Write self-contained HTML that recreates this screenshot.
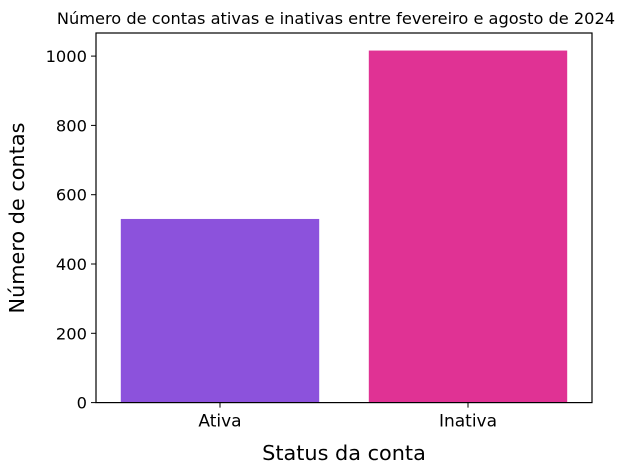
<!DOCTYPE html>
<html><head><meta charset="utf-8"><style>
body{margin:0;background:#fff;}
svg{display:block;font-family:"DejaVu Sans","Liberation Sans",sans-serif;}
</style></head><body>
<svg id="chart" width="640" height="474">
<g id="bars"></g>
<g id="axes"></g>
<text x="336" y="24" text-anchor="middle" font-size="16.2" fill="#000">Número de contas ativas e inativas entre fevereiro e agosto de 2024</text>
<text x="344" y="460" text-anchor="middle" font-size="20.8" fill="#000">Status da conta</text>
<text transform="translate(24,218) rotate(-90)" text-anchor="middle" font-size="20.8" fill="#000">Número de contas</text>
</svg>
<script>
const categories = ["Ativa", "Inativa"];
const values = [530, 1016];
const barColors = ["#8c52dc", "#e03294"];
const yTicks = [0, 200, 400, 600, 800, 1000];

const L=96,R=592,T=33,B=402.6;
const ns="http://www.w3.org/2000/svg";
function y(v){return B - v*0.3465;}
function xc(i){return L + (R-L)/categories.length*(i+0.5);}
const bw=(R-L)/categories.length*0.8;
function mk(tag,attrs,parent){const e=document.createElementNS(ns,tag);for(const k in attrs)e.setAttribute(k,attrs[k]);parent.appendChild(e);return e;}
const bars=document.getElementById('bars'),axes=document.getElementById('axes');
values.forEach((v,i)=>{
  const r=mk('rect',{x:xc(i)-bw/2,y:y(v),width:bw,height:B-y(v),fill:barColors[i]},bars);
  
  
  const t=mk('text',{x:xc(i),y:B+24,'text-anchor':'middle','font-size':'17',fill:'#000'},axes);
  t.textContent=categories[i];
  
  
  mk('line',{x1:xc(i),x2:xc(i),y1:B,y2:B+5,stroke:'#000','stroke-width':1},axes);
});
yTicks.forEach(v=>{
  mk('line',{x1:L-5,x2:L,y1:y(v),y2:y(v),stroke:'#000','stroke-width':1},axes);
  const t=mk('text',{x:L-9,y:y(v)+6,'text-anchor':'end','font-size':'16.3',fill:'#000'},axes);
  t.textContent=v;
  
  
});
const f=mk('rect',{x:L,y:T,width:R-L,height:B-T,fill:'none',stroke:'#000','stroke-width':1.2},axes);


</script>
</body></html>
